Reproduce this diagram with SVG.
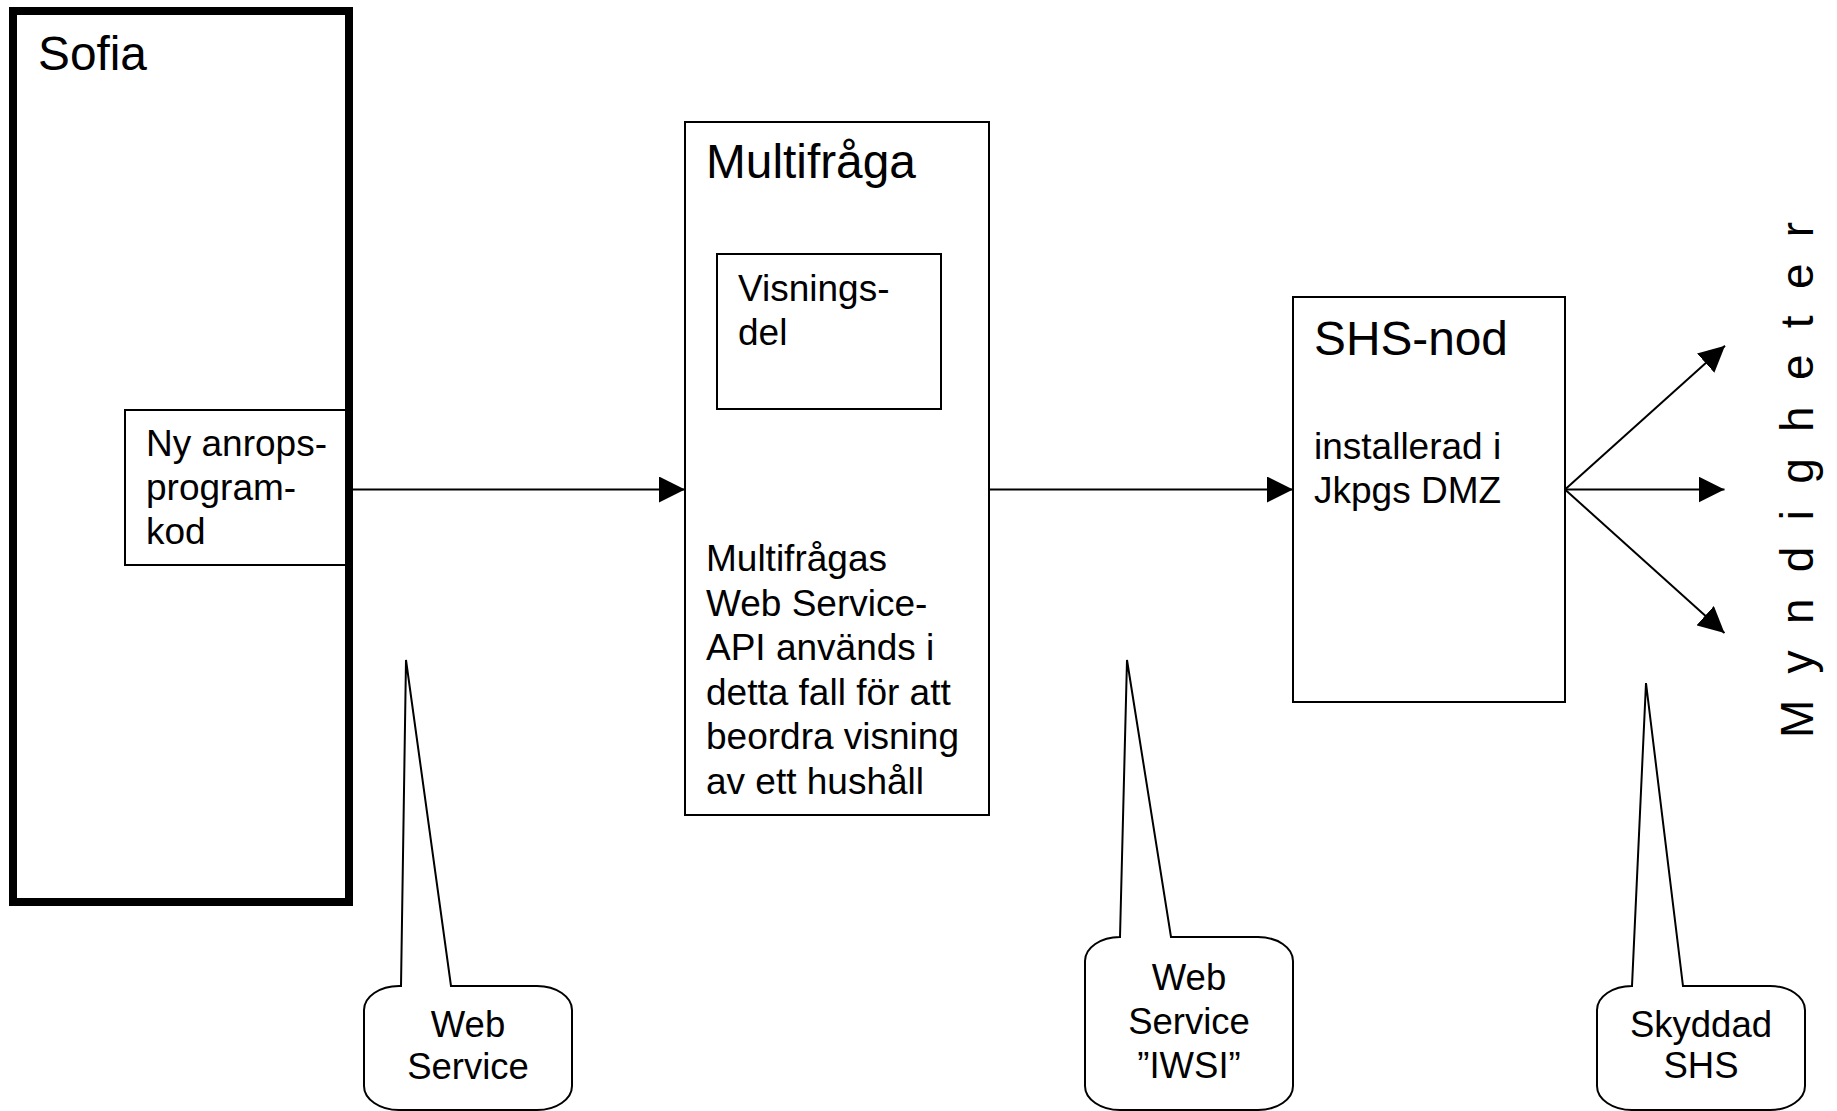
<svg xmlns="http://www.w3.org/2000/svg" width="1837" height="1111" viewBox="0 0 1837 1111">
<style>
.box{fill:#fff;stroke:#000;stroke-width:2}
.thick{fill:none;stroke:#000;stroke-width:8}
.t{font-family:"Liberation Sans",Arial,sans-serif;fill:#000}
.big{font-size:47.8px}
.mid{font-size:37px}
.rot{font-size:46px}
.call{font-size:36.5px;text-anchor:middle}
.conn{stroke:#000;stroke-width:2;fill:none}
.bub{fill:#fff;stroke:#000;stroke-width:2}
</style>
<defs>
<marker id="ah" markerUnits="userSpaceOnUse" markerWidth="26" markerHeight="26" refX="26" refY="13" orient="auto">
<path d="M0,0 L26,13 L0,26 Z" fill="#000"/>
</marker>
</defs>
<rect width="1837" height="1111" fill="#fff"/>

<g id="ny-anrop">
<rect class="box" x="125" y="410" width="224" height="155"/>
<text class="t mid" x="146"><tspan x="146" y="456">Ny anrops-</tspan><tspan x="146" y="500">program-</tspan><tspan x="146" y="544">kod</tspan></text>
</g>
<g id="sofia">
<rect class="thick" x="13" y="11" width="336" height="891"/>
<text class="t big" x="38" y="70">Sofia</text>
</g>

<g id="multifraga">
<rect class="box" x="685" y="122" width="304" height="693"/>
<text class="t big" x="706" y="178">Multifråga</text>
<text class="t mid"><tspan x="706" y="571">Multifrågas</tspan><tspan x="706" y="615.5">Web Service-</tspan><tspan x="706" y="660">API används i</tspan><tspan x="706" y="704.5">detta fall för att</tspan><tspan x="706" y="749">beordra visning</tspan><tspan x="706" y="793.5">av ett hushåll</tspan></text>
</g>
<g id="visningsdel">
<rect class="box" x="717" y="254" width="224" height="155"/>
<text class="t mid"><tspan x="738" y="301">Visnings-</tspan><tspan x="738" y="345">del</tspan></text>
</g>

<g id="shs-nod">
<rect class="box" x="1293" y="297" width="272" height="405"/>
<text class="t big" x="1314" y="355">SHS-nod</text>
<text class="t mid"><tspan x="1314" y="459">installerad i</tspan><tspan x="1314" y="503">Jkpgs DMZ</tspan></text>
</g>

<g id="myndigheter">
<text class="t rot" transform="translate(1813,738) rotate(-90)" letter-spacing="26.3">Myndigheter</text>
</g>

<g id="connectors">
<line class="conn" x1="353" y1="489.5" x2="685" y2="489.5" marker-end="url(#ah)"/>
<line class="conn" x1="989" y1="489.5" x2="1293" y2="489.5" marker-end="url(#ah)"/>
<line class="conn" x1="1565" y1="489.5" x2="1725" y2="345.7" marker-end="url(#ah)"/>
<line class="conn" x1="1565" y1="489.5" x2="1724.5" y2="489.5" marker-end="url(#ah)"/>
<line class="conn" x1="1565" y1="489.5" x2="1724.5" y2="633" marker-end="url(#ah)"/>
</g>

<g id="callout-web-service">
<path class="bub" d="M401,986 L406,660 L451,986 L537,986 A35,24 0 0 1 572,1010 L572,1086 A35,24 0 0 1 537,1110 L399,1110 A35,24 0 0 1 364,1086 L364,1010 A35,24 0 0 1 399,986 Z"/>
<text class="t call"><tspan x="468" y="1036.5">Web</tspan><tspan x="468" y="1078.5">Service</tspan></text>
</g>

<g id="callout-iwsi">
<path class="bub" d="M1120,937 L1127,660 L1171,937 L1258,937 A35,24 0 0 1 1293,961 L1293,1086 A35,24 0 0 1 1258,1110 L1120,1110 A35,24 0 0 1 1085,1086 L1085,961 A35,24 0 0 1 1120,937 Z"/>
<text class="t call"><tspan x="1189" y="990">Web</tspan><tspan x="1189" y="1034">Service</tspan><tspan x="1189" y="1078">”IWSI”</tspan></text>
</g>

<g id="callout-skyddad">
<path class="bub" d="M1632,986 L1646,683 L1683,986 L1770,986 A35,24 0 0 1 1805,1010 L1805,1086 A35,24 0 0 1 1770,1110 L1632,1110 A35,24 0 0 1 1597,1086 L1597,1010 A35,24 0 0 1 1632,986 Z"/>
<text class="t call"><tspan x="1701" y="1036.5">Skyddad</tspan><tspan x="1701" y="1078">SHS</tspan></text>
</g>
</svg>
